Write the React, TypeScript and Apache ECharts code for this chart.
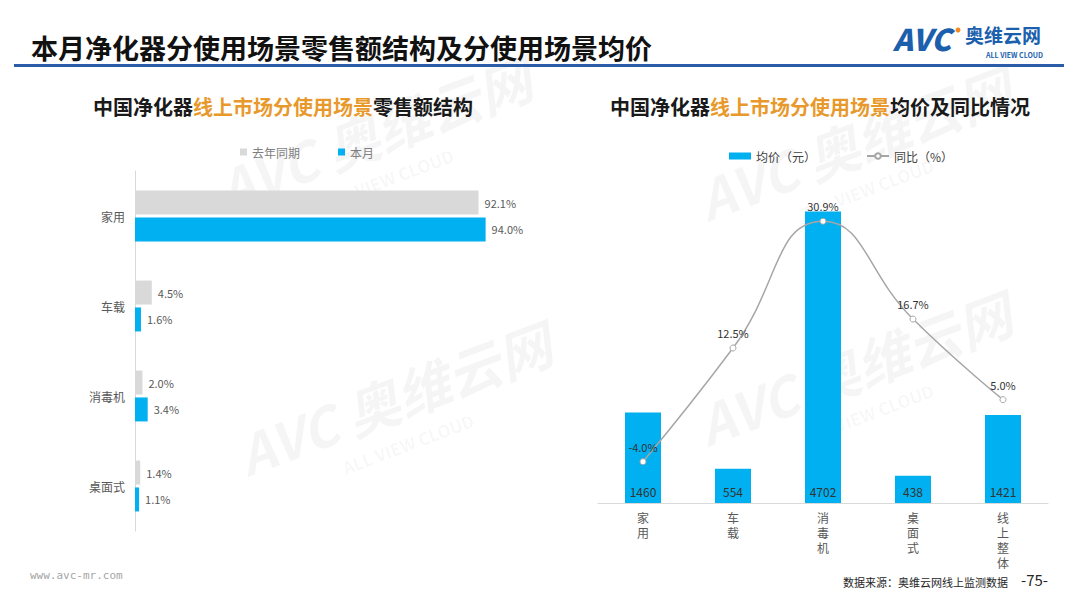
import React, { useEffect, useRef } from "react";
import * as echarts from "echarts";

const shareCategories = ["家用", "车载", "消毒机", "桌面式"];
const shareLastYear = [92.1, 4.5, 2.0, 1.4];
const shareThisMonth = [94.0, 1.6, 3.4, 1.1];

const priceCategories = ["家用", "车载", "消毒机", "桌面式", "线上整体"];
const avgPrice = [1460, 554, 4702, 438, 1421];
const yoy = [-4.0, 12.5, 30.9, 16.7, 5.0];

const BLUE = "#00b0f0";
const GRAY = "#d9d9d9";
const ORANGE = "#e8992c";
const FONT = "'Noto Sans CJK SC', 'Noto Sans', sans-serif";

export default function App() {
  const ref = useRef<HTMLDivElement>(null);
  useEffect(() => {
    document.body.style.margin = "0";
    const chart = echarts.init(ref.current!, null, { renderer: "svg" });
    const subRich = {
      a: { fontSize: 20, fontWeight: "bold", color: "#1a1a1a", fontFamily: FONT },
      b: { fontSize: 20, fontWeight: "bold", color: ORANGE, fontFamily: FONT },
    };
    const watermark = (x: number, y: number) => [
      {
        type: "text",
        x,
        y,
        rotation: 0.36,
        z: -10,
        silent: true,
        style: {
          text: "AVC 奥维云网",
          fill: "rgba(0,0,0,0.04)",
          font: `italic bold 54px ${FONT}`,
        },
      },
      {
        type: "text",
        x: x + 110,
        y: y + 30,
        rotation: 0.36,
        z: -10,
        silent: true,
        style: {
          text: "ALL VIEW CLOUD",
          fill: "rgba(0,0,0,0.04)",
          font: `bold 17px ${FONT}`,
        },
      },
    ];
    chart.setOption({
      animation: false,
      backgroundColor: "#ffffff",
      textStyle: { fontFamily: FONT },
      title: [
        {
          text: "本月净化器分使用场景零售额结构及分使用场景均价",
          left: 26,
          top: 29,
          textStyle: { fontSize: 27, fontWeight: "bold", color: "#111", fontFamily: FONT },
        },
        {
          text: "{a|中国净化器}{b|线上市场分使用场景}{a|零售额结构}",
          left: 278,
          textAlign: "center",
          top: 91,
          textStyle: { rich: subRich },
        },
        {
          text: "{a|中国净化器}{b|线上市场分使用场景}{a|均价及同比情况}",
          left: 815,
          textAlign: "center",
          top: 91,
          textStyle: { rich: subRich },
        },
      ],
      legend: [
        {
          data: ["去年同期", "本月"],
          left: 235,
          top: 141,
          itemWidth: 7,
          itemHeight: 7,
          itemGap: 38,
          icon: "rect",
          textStyle: { color: "#7f7f7f", fontSize: 12, fontFamily: FONT },
        },
        {
          data: [
            { name: "均价（元）", icon: "rect" },
            { name: "同比（%）" },
          ],
          left: 724,
          top: 145,
          itemWidth: 22,
          itemHeight: 7,
          itemGap: 50,
          textStyle: { color: "#404040", fontSize: 12, fontFamily: FONT },
        },
      ],
      grid: [
        { left: 135, top: 171, width: 373, height: 360 },
        { left: 598, top: 193, width: 450, height: 310 },
      ],
      xAxis: [
        {
          gridIndex: 0,
          type: "value",
          min: 0,
          max: 100,
          show: false,
        },
        {
          gridIndex: 1,
          type: "category",
          data: priceCategories,
          axisLine: { lineStyle: { color: GRAY } },
          axisTick: { show: false },
          axisLabel: {
            color: "#595959",
            fontSize: 12,
            lineHeight: 15,
            margin: 7,
            formatter: (v: string) => v.split("").join("\n"),
          },
        },
      ],
      yAxis: [
        {
          gridIndex: 0,
          type: "category",
          data: shareCategories,
          inverse: true,
          axisLine: { lineStyle: { color: GRAY } },
          axisTick: { show: false },
          axisLabel: { color: "#595959", fontSize: 12, margin: 10 },
        },
        {
          gridIndex: 1,
          type: "value",
          min: 0,
          max: 5000,
          show: false,
          splitLine: { show: false },
        },
        {
          gridIndex: 1,
          type: "value",
          min: -10,
          max: 35,
          show: false,
          splitLine: { show: false },
        },
      ],
      series: [
        {
          name: "去年同期",
          type: "bar",
          xAxisIndex: 0,
          yAxisIndex: 0,
          data: shareLastYear,
          barWidth: 24,
          barGap: "12%",
          itemStyle: { color: GRAY },
          label: {
            show: true,
            position: "right",
            distance: 6,
            color: "#595959",
            fontSize: 11,
            formatter: (p: any) => p.value.toFixed(1) + "%",
          },
        },
        {
          name: "本月",
          type: "bar",
          xAxisIndex: 0,
          yAxisIndex: 0,
          data: shareThisMonth,
          barWidth: 24,
          barGap: "12%",
          itemStyle: { color: BLUE },
          label: {
            show: true,
            position: "right",
            distance: 6,
            color: "#595959",
            fontSize: 11,
            formatter: (p: any) => p.value.toFixed(1) + "%",
          },
        },
        {
          name: "均价（元）",
          type: "bar",
          xAxisIndex: 1,
          yAxisIndex: 1,
          data: avgPrice,
          barWidth: 36,
          itemStyle: { color: BLUE },
          label: {
            show: true,
            position: "insideBottom",
            distance: 6,
            color: "#333333",
            fontSize: 12,
          },
        },
        {
          name: "同比（%）",
          type: "line",
          xAxisIndex: 1,
          yAxisIndex: 2,
          data: yoy,
          smooth: 0.5,
          symbol: "circle",
          symbolSize: 6,
          z: 5,
          lineStyle: { color: "#a6a6a6", width: 1.5 },
          itemStyle: { color: "#ffffff", borderColor: "#a6a6a6", borderWidth: 1 },
          label: {
            show: true,
            position: "top",
            distance: 6,
            color: "#333333",
            fontSize: 11,
            formatter: (p: any) => p.value.toFixed(1) + "%",
          },
        },
      ],
      graphic: [
        ...watermark(210, 165),
        ...watermark(690, 175),
        ...watermark(230, 430),
        ...watermark(690, 400),
        {
          type: "rect",
          shape: { x: 14, y: 64, width: 1050, height: 3 },
          style: { fill: "#2a5ca8" },
        },
        {
          type: "text",
          x: 893,
          y: 23,
          style: {
            text: "AVC",
            fill: "#1c5fad",
            font: `italic 900 30px ${FONT}`,
          },
        },
        {
          type: "circle",
          shape: { cx: 958, cy: 30, r: 2.5 },
          style: { fill: "#f08a24" },
        },
        {
          type: "text",
          x: 965,
          y: 25,
          style: {
            text: "奥维云网",
            fill: "#1c5fad",
            font: `bold 19px ${FONT}`,
          },
        },
        {
          type: "text",
          x: 986,
          y: 51,
          style: {
            text: "ALL VIEW CLOUD",
            fill: "#1c5fad",
            font: `bold 7px ${FONT}`,
          },
        },
        {
          type: "text",
          x: 30,
          y: 570,
          style: {
            text: "www.avc-mr.com",
            fill: "#a6a6a6",
            font: `11px 'DejaVu Sans Mono', monospace`,
          },
        },
        {
          type: "text",
          x: 1008,
          y: 576,
          style: {
            text: "数据来源：奥维云网线上监测数据",
            fill: "#262626",
            align: "right",
            font: `11px ${FONT}`,
          },
        },
        {
          type: "text",
          x: 1021,
          y: 572,
          style: {
            text: "-75-",
            fill: "#262626",
            font: `15px ${FONT}`,
          },
        },
      ],
    });
    return () => chart.dispose();
  }, []);
  return (
    <div
      ref={ref}
      style={{ position: "absolute", left: 0, top: 0, width: 1080, height: 608 }}
    />
  );
}
